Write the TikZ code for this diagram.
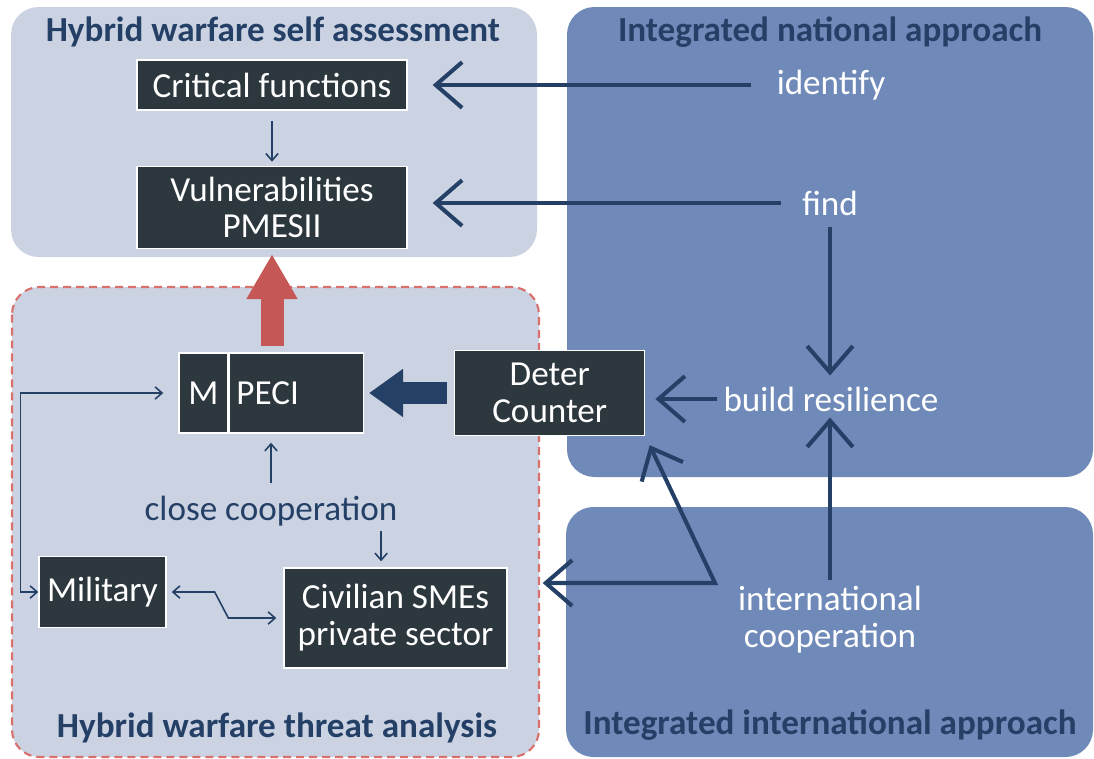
\documentclass[tikz,border=0pt]{standalone}
\usepackage{fontspec}
\setmainfont{Carlito}
\usetikzlibrary{positioning, arrows.meta}

\definecolor{paleblue}{HTML}{CBD3E3}
\definecolor{midblue}{HTML}{6F8AB8}
\definecolor{darkblue}{HTML}{244066}
\definecolor{boxgrey}{HTML}{2C373E}
\definecolor{warnred}{HTML}{C55856}
\definecolor{dashred}{HTML}{D9706C}
\newcommand{\hwfont}{\fontsize{20}{21}\selectfont}

\tikzset{big/.tip={Straight Barb[length=15pt, width=26pt]},
         small/.tip={Straight Barb[length=4pt, width=7pt]}}

\begin{document}
\begin{tikzpicture}[x=0.02cm, y=-0.02cm, every node/.style={font=\hwfont}]
    \tikzstyle{block} = [rectangle, draw=white, line width=0.8pt, fill=boxgrey, text=white, align=center, inner sep=2pt]
    \tikzstyle{title} = [font=\hwfont\bfseries, text=darkblue]
    \tikzstyle{word} = [text=white, align=center]
    \tikzstyle{bigline} = [draw=darkblue, line width=2.3pt, -big]
    \tikzstyle{smallline} = [draw=darkblue, line width=0.9pt, -small]

    \useasboundingbox (0,0) rectangle (1094,758);
    \fill[paleblue, rounded corners=0.55cm] (11,7) rectangle (537,257);
    \fill[midblue, rounded corners=0.55cm] (567,7) rectangle (1093,477);
    \fill[midblue, rounded corners=0.55cm] (566,507) rectangle (1093,757);
    \draw[fill=paleblue, draw=dashred, line width=1.2pt, dash pattern=on 0.16cm off 0.1cm, rounded corners=0.55cm] (12,287) rectangle (539,757);

    \node (selftitle) [title] at (273,32) {Hybrid warfare self assessment};
    \node (nattitle) [title] at (830,32) {Integrated national approach};
    \node (threattitle) [title] at (277,728) {Hybrid warfare threat analysis};
    \node (intltitle) [title] at (830,725) {Integrated international approach};

    \node (crit) [block, minimum width=5.4cm, minimum height=1cm] at (272,85) {Critical functions};
    \node (vuln) [block, minimum width=5.4cm, minimum height=1.64cm, below=1.1cm of crit] {Vulnerabilities\\PMESII};
    \node (m) [block, minimum width=0.98cm, minimum height=1.6cm] at (203.5,393) {M};
    \node (peci) [block, minimum width=2.68cm, minimum height=1.6cm, text width=2.4cm, align=left, right=0pt of m] {PECI};
    \node (deter) [block, minimum width=3.8cm, minimum height=1.7cm, right=1.8cm of peci] {Deter\\Counter};
    \node (mil) [block, minimum width=2.54cm, minimum height=1.42cm] at (102.5,592) {Military};
    \node (civil) [block, minimum width=4.46cm, minimum height=2cm] at (395.5,618) {Civilian SMEs\\private sector};

    \node (identify) [word] at (831,85) {identify};
    \node (find) [word] at (830,203) {find};
    \node (build) [word] at (831,399) {build resilience};
    \node (intl) [word] at (830,620) {international\\cooperation};
    \node (close) [text=darkblue] at (271,511) {close cooperation};

    \draw [bigline, shorten <=0.4cm, shorten >=0.5cm] (identify.west) -- (identify.west -| crit.east);
    \draw [bigline, shorten <=0.3cm, shorten >=0.5cm] (find.west) -- (find.west -| vuln.east);
    \draw [bigline, shorten <=0.1cm, shorten >=0.1cm] (find.south) -- (find.south |- build.north);
    \draw [bigline, shorten >=0.2cm] (build.west) -- (build.west -| deter.east);
    \draw [bigline] (intl.north) -- (intl.north |- build.south);
    \coordinate (vtip) at (715,583);
    \draw [bigline, big-big, shorten <=0.2cm, shorten >=0.7cm] (deter.south east) -- (vtip) -- (vtip -| civil.east);

    \draw [smallline, shorten <=0.2cm, shorten >=0.08cm] (crit.south) -- (vuln.north);
    \draw [smallline, shorten <=0.14cm, shorten >=0.18cm] (close.north) -- (close.north |- peci.south);
    \draw [smallline, shorten <=0.22cm, shorten >=0.12cm] ([xshift=-0.45cm]close.base east) -- ([xshift=-0.45cm]close.base east |- civil.north);
    \draw [smallline, small-small, shorten <=0.3cm] (m.west) -- ++(-158,0) |- (mil.west);
    \draw [smallline, small-small, shorten <=0.1cm, shorten >=0.14cm] (mil.east) -- ++(48,0) -- ([xshift=-1.1cm]civil.west) -- (civil.west);

    \draw [warnred, line width=0.46cm, -{Triangle[length=0.9cm, width=0.96cm]}, shorten <=0.12cm, shorten >=0.1cm] (vuln.south |- m.north) -- (vuln.south);
    \draw [darkblue, line width=0.44cm, -{Triangle[length=0.68cm, width=0.92cm]}, shorten <=0.14cm, shorten >=0.1cm] (deter.west) -- (deter.west -| peci.east);
\end{tikzpicture}
\end{document}
